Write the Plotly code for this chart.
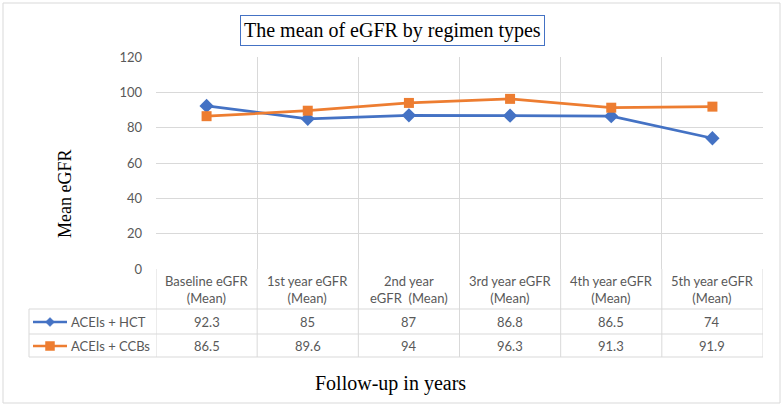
import plotly.graph_objects as go

categories = ["Baseline eGFR<br>(Mean)", "1st year eGFR<br>(Mean)", "2nd year<br>eGFR  (Mean)",
              "3rd year eGFR<br>(Mean)", "4th year eGFR<br>(Mean)", "5th year eGFR<br>(Mean)"]
series_names = ["ACEIs + HCT", "ACEIs + CCBs"]
hct = [92.3, 85, 87, 86.8, 86.5, 74]
ccb = [86.5, 89.6, 94, 96.3, 91.3, 91.9]
yticks = [0, 20, 40, 60, 80, 100, 120]

W, H = 784, 406
def px(x): return x / W
def py(y): return 1 - y / H

BLUE = "#4472C4"
ORANGE = "#ED7D31"
GRID = "#D9D9D9"
TXT = "#595959"
SANS = "Lato, Carlito, Calibri, sans-serif"
SERIF = "Liberation Serif, Times New Roman, serif"

PL, PR, PT, PB = 156, 763, 57, 269
ROW_HEAD_B, ROW1_B, ROW2_B = 309, 334, 357
TBL_L = 29

n = len(categories)
xs = list(range(n))

fig = go.Figure()
fig.add_trace(go.Scatter(x=xs, y=hct, mode="lines+markers", name=series_names[0],
                         line=dict(color=BLUE, width=2.75),
                         marker=dict(symbol="diamond", size=11, color=BLUE)))
fig.add_trace(go.Scatter(x=xs, y=ccb, mode="lines+markers", name=series_names[1],
                         line=dict(color=ORANGE, width=2.75),
                         marker=dict(symbol="square", size=10, color=ORANGE)))

shapes = []
for i in range(n + 1):
    shapes.append(dict(type="line", xref="x", yref="paper", x0=i - 0.5, x1=i - 0.5,
                       y0=py(PB), y1=py(ROW2_B), line=dict(color=GRID, width=1)))
for yy in [ROW_HEAD_B, ROW1_B, ROW2_B]:
    shapes.append(dict(type="line", xref="paper", yref="paper", x0=px(TBL_L), x1=px(PR),
                       y0=py(yy), y1=py(yy), line=dict(color=GRID, width=1)))
shapes.append(dict(type="line", xref="paper", yref="paper", x0=px(TBL_L), x1=px(TBL_L),
                   y0=py(ROW_HEAD_B), y1=py(ROW2_B), line=dict(color=GRID, width=1)))
shapes.append(dict(type="rect", xref="paper", yref="paper", x0=px(3), x1=px(780),
                   y0=py(3), y1=py(403), line=dict(color=GRID, width=1)))

key_rows = [322, 346]
for col, yy in zip([BLUE, ORANGE], key_rows):
    shapes.append(dict(type="line", xref="paper", yref="paper", x0=px(33), x1=px(67),
                       y0=py(yy), y1=py(yy), line=dict(color=col, width=2.5)))
cx, cy, r = 50, key_rows[0], 4.5
shapes.append(dict(type="path", xref="paper", yref="paper",
                   path=f"M {px(cx - r)} {py(cy)} L {px(cx)} {py(cy - r)} L {px(cx + r)} {py(cy)} L {px(cx)} {py(cy + r)} Z",
                   fillcolor=BLUE, line=dict(color=BLUE, width=0.5)))
cx, cy, r = 50, key_rows[1], 4.5
shapes.append(dict(type="rect", xref="paper", yref="paper", x0=px(cx - r), x1=px(cx + r),
                   y0=py(cy + r), y1=py(cy - r), fillcolor=ORANGE, line=dict(color=ORANGE, width=0.5)))

def ann(**kw):
    d = dict(showarrow=False, xanchor="center", yanchor="middle")
    d.update(kw)
    return d

annotations = []
for i, c in enumerate(categories):
    annotations.append(ann(x=i, xref="x", y=py(289), yref="paper", text=c,
                           font=dict(family=SANS, size=13, color=TXT), align="center"))
    annotations.append(ann(x=i, xref="x", y=py(322), yref="paper", text=str(hct[i]),
                           font=dict(family=SANS, size=13, color=TXT)))
    annotations.append(ann(x=i, xref="x", y=py(346), yref="paper", text=str(ccb[i]),
                           font=dict(family=SANS, size=13, color=TXT)))
for name, yy in zip(series_names, key_rows):
    annotations.append(ann(x=px(69), xref="paper", y=py(yy), yref="paper", text=name,
                           xanchor="left", font=dict(family=SANS, size=13, color=TXT)))
annotations.append(ann(x=px(392), xref="paper", y=py(30), yref="paper",
                       text="The mean of eGFR by regimen types",
                       font=dict(family=SERIF, size=20, color="black"),
                       bordercolor=BLUE, borderwidth=1, borderpad=3, bgcolor="white"))
annotations.append(ann(x=px(65), xref="paper", y=py(194), yref="paper", text="Mean eGFR",
                       textangle=-90, font=dict(family=SERIF, size=18, color="black")))
annotations.append(ann(x=px(390), xref="paper", y=py(383), yref="paper", text="Follow-up in years",
                       font=dict(family=SERIF, size=20, color="black")))

fig.update_layout(
    template="none",
    width=W, height=H, autosize=False,
    margin=dict(l=0, r=0, t=0, b=0, pad=0),
    paper_bgcolor="white", plot_bgcolor="white",
    showlegend=False,
    xaxis=dict(domain=[px(PL), px(PR)], range=[-0.5, n - 0.5], tickvals=[i - 0.5 for i in range(n + 1)],
               showticklabels=False, showgrid=True, gridcolor=GRID, gridwidth=1,
               zeroline=False, showline=False, ticks="", automargin=False),
    yaxis=dict(domain=[py(PB), py(PT)], range=[0, 120], tickvals=yticks,
               showgrid=True, gridcolor=GRID, gridwidth=1, zeroline=False, showline=False,
               tickfont=dict(family=SANS, size=13, color=TXT), ticks="", ticklabelstandoff=13,
               automargin=False),
    shapes=shapes, annotations=annotations,
)

fig.write_html("out.html", config={"displayModeBar": False},
               post_script="document.body.style.margin='0';document.body.style.padding='0';")
